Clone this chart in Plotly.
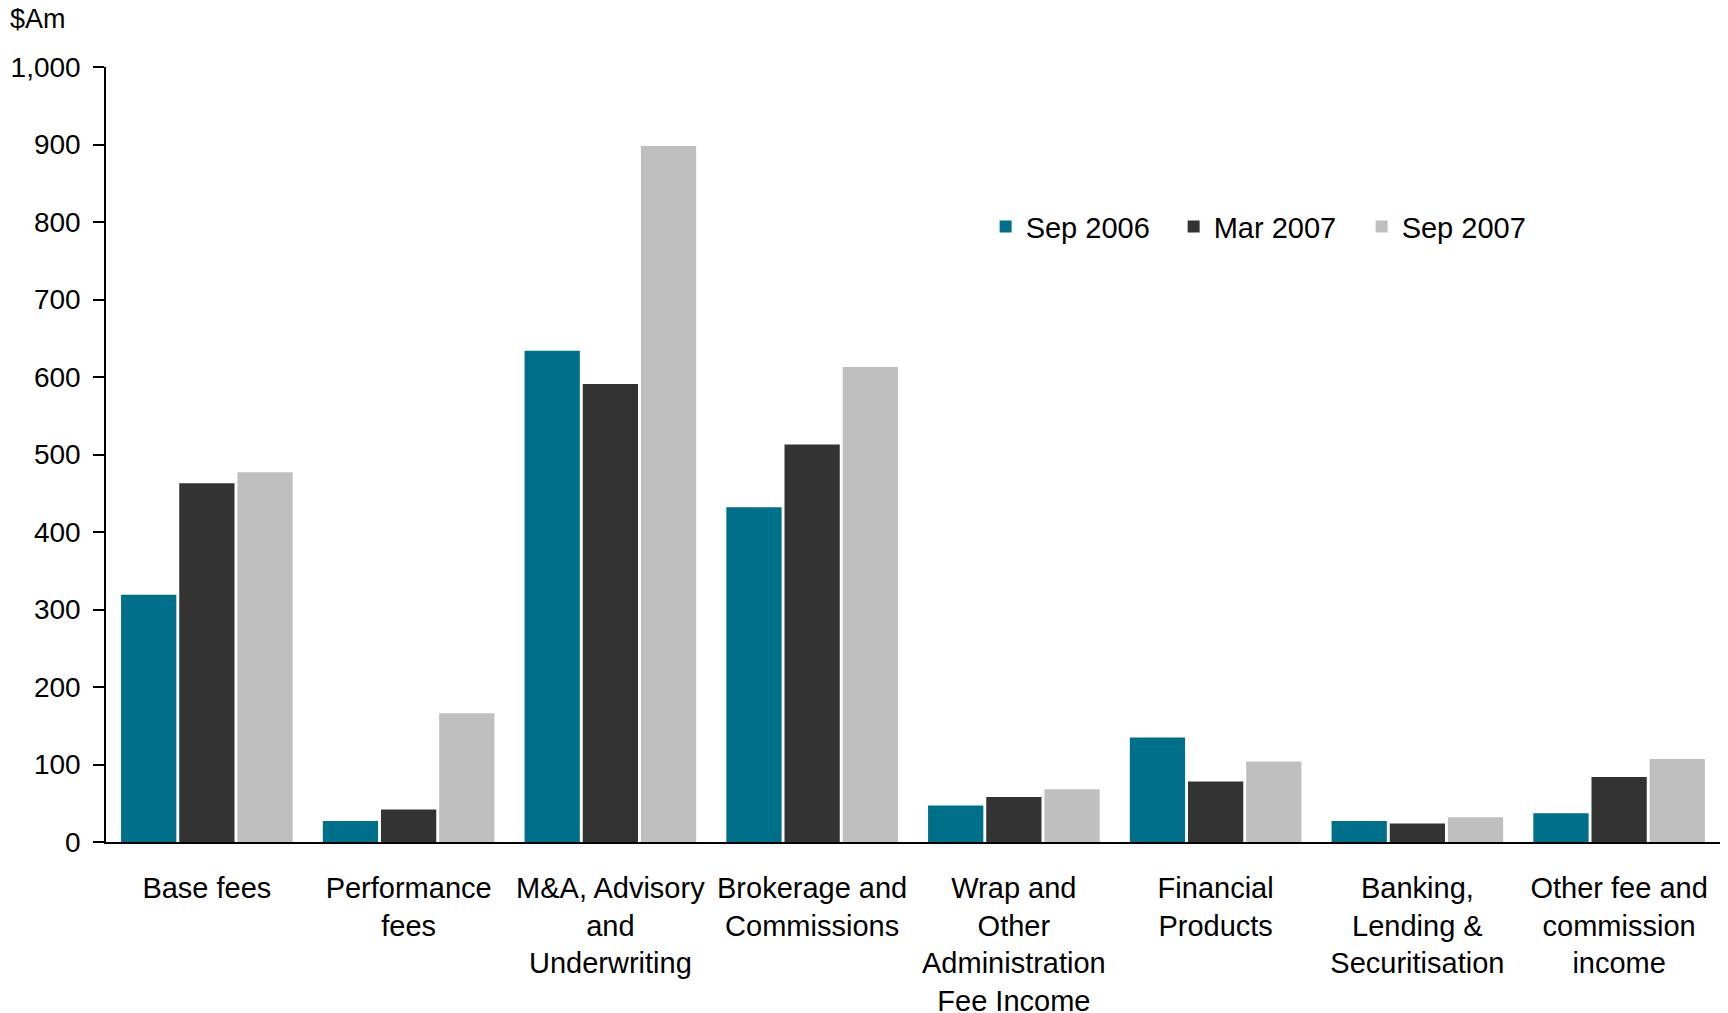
import plotly.graph_objects as go

# Fee and commission income by category, $A millions
categories = [
    "Base fees",
    "Performance<br>fees",
    "M&A, Advisory<br>and<br>Underwriting",
    "Brokerage and<br>Commissions",
    "Wrap and<br>Other<br>Administration<br>Fee Income",
    "Financial<br>Products",
    "Banking,<br>Lending &<br>Securitisation",
    "Other fee and<br>commission<br>income",
]
sep_2006 = [319, 27, 634, 432, 47, 135, 27, 37]
mar_2007 = [463, 42, 591, 513, 58, 78, 24, 84]
sep_2007 = [477, 166, 898, 613, 68, 104, 32, 107]

series_names = ["Sep 2006", "Mar 2007", "Sep 2007"]
series_values = [sep_2006, mar_2007, sep_2007]
series_colors = ["#006F8A", "#333333", "#BFBFBF"]

y_ticks = [0, 100, 200, 300, 400, 500, 600, 700, 800, 900, 1000]
y_tick_labels = ["0", "100", "200", "300", "400", "500", "600", "700", "800", "900", "1,000"]

FONT = "Liberation Sans, Arial, sans-serif"

fig = go.Figure()
for name, vals, color in zip(series_names, series_values, series_colors):
    fig.add_trace(
        go.Bar(
            name=name,
            x=categories,
            y=vals,
            marker=dict(color=color, line=dict(width=0)),
        )
    )

fig.update_layout(
    width=1728,
    height=1013,
    margin=dict(l=106, r=8, t=67, b=171, autoexpand=False),
    paper_bgcolor="white",
    plot_bgcolor="white",
    barmode="group",
    bargap=0.135,
    bargroupgap=0.05,
    font=dict(family=FONT, size=28, color="black"),
    showlegend=True,
    legend=dict(
        orientation="h",
        x=0.545,
        y=0.794,
        xanchor="left",
        yanchor="middle",
        bgcolor="rgba(0,0,0,0)",
        font=dict(family=FONT, size=29, color="black"),
        entrywidth=143,
        itemwidth=30,
    ),
    xaxis=dict(
        automargin=False,
        showline=True,
        linecolor="black",
        linewidth=2,
        ticks="",
        showgrid=False,
        zeroline=False,
        tickfont=dict(family=FONT, size=29, color="black"),
        ticklabelstandoff=19,
    ),
    yaxis=dict(
        automargin=False,
        range=[0, 1000],
        tickvals=y_ticks,
        ticktext=y_tick_labels,
        showline=True,
        linecolor="black",
        linewidth=1.5,
        ticks="outside",
        ticklen=11,
        tickwidth=1.5,
        tickcolor="black",
        showgrid=False,
        zeroline=False,
        tickfont=dict(family=FONT, size=28, color="black"),
        ticklabelstandoff=7,
    ),
    annotations=[
        dict(
            text="$Am",
            xref="paper",
            yref="paper",
            x=-0.0605,
            y=1.062,
            xanchor="left",
            yanchor="middle",
            showarrow=False,
            font=dict(family=FONT, size=27, color="black"),
        )
    ],
)

fig.write_html("out.html")
